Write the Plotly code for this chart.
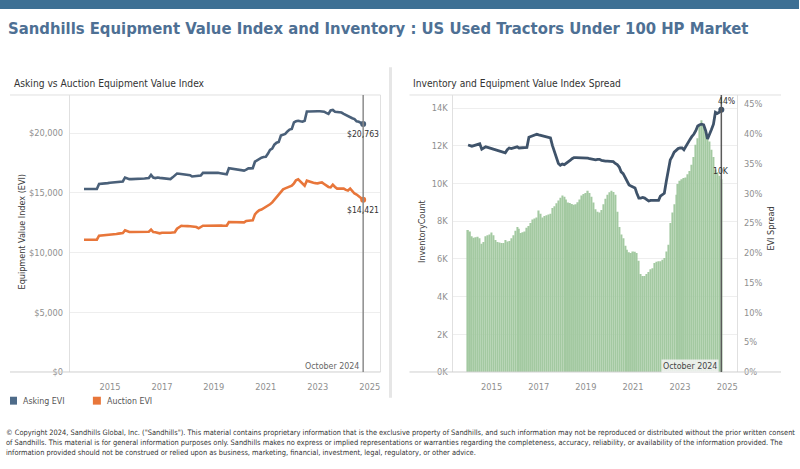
import pandas as pd
import plotly.graph_objects as go

# ---------------- data ----------------
months = pd.date_range("2014-01-01", periods=130, freq="MS")

asking_evi = [
    15330, 15330, 15330, 15330, 15330, 15330, 15330, 15740, 15750, 15780, 15800, 15820,  # 2014
    15850, 15870, 15900, 15920, 15940, 15960, 15960, 16290, 16200, 16154, 16150, 16150,  # 2015
    16160, 16170, 16180, 16200, 16210, 16230, 16240, 16510, 16290, 16240, 16290, 16260,  # 2016
    16240, 16230, 16240, 16200, 16154, 16300, 16500, 16621, 16600, 16570, 16550, 16511,  # 2017
    16490, 16480, 16374, 16400, 16420, 16440, 16450, 16676, 16680, 16690, 16700, 16690,  # 2018
    16680, 16690, 16680, 16650, 16620, 16600, 16566, 17061, 17040, 17020, 17000, 16970,  # 2019
    16940, 16923, 16868, 16950, 17061, 17050, 17060, 17610, 17750, 17885, 17950, 18000,  # 2020
    18022, 18297, 18600, 18709, 19039, 19200, 19258, 19808, 19900, 19945, 20150, 20300,  # 2021
    20357, 20906, 21000, 21044, 21000, 20961, 21044, 21813, 21820, 21810, 21820, 21830,  # 2022
    21840, 21840, 21840, 21800, 21700, 21620, 21900, 21950, 21800, 21760, 21730, 21730,  # 2023
    21620, 21510, 21400, 21290, 21250, 21180, 20990, 20950, 20850, 20763,                # 2024
]

auction_evi = [
    11080, 11080, 11080, 11080, 11080, 11080, 11080, 11420, 11430, 11450, 11460, 11480,  # 2014
    11500, 11520, 11540, 11560, 11590, 11610, 11640, 11860, 11760, 11720, 11720, 11720,  # 2015
    11730, 11730, 11740, 11740, 11750, 11740, 11750, 11920, 11720, 11700, 11650, 11610,  # 2016
    11660, 11650, 11630, 11640, 11660, 11680, 11700, 12000, 12150, 12250, 12230, 12250,  # 2017
    12220, 12200, 12180, 12160, 12140, 12030, 12150, 12250, 12250, 12260, 12280, 12260,  # 2018
    12270, 12280, 12280, 12270, 12260, 12250, 12250, 12560, 12560, 12550, 12540, 12540,  # 2019
    12530, 12520, 12530, 12650, 12690, 12690, 12700, 13200, 13400, 13550, 13600, 13700,  # 2020
    13800, 13950, 14050, 14200, 14400, 14650, 14850, 15050, 15300, 15380, 15450, 15550,  # 2021
    15600, 15800, 16050, 16130, 15960, 15800, 15600, 16020, 15950, 15900, 15850, 15820,  # 2022
    15800, 15850, 15880, 15750, 15600, 15500, 15470, 15690, 15500, 15360, 15360, 15360,  # 2023
    15360, 15250, 15200, 15360, 15150, 14950, 14860, 14700, 14550, 14421,                # 2024
]

inventory_count = [
    7540, 7450, 7200, 7130, 7150, 7180, 7100, 6800, 6900, 7200, 7250, 7300,          # 2014
    7400, 7250, 7010, 6900, 6870, 6850, 6850, 7000, 6930, 6950, 7100, 7250,          # 2015
    7500, 7700, 7600, 7380, 7420, 7450, 7650, 7750, 7900, 8090, 8150, 8200,          # 2016
    8570, 8400, 8200, 8280, 8320, 8360, 8400, 8700, 8800, 8950, 9100, 9250,          # 2017
    9360, 9300, 9150, 9000, 8970, 8920, 8880, 8900, 9010, 9150, 9360, 9450,          # 2018
    9500, 9620, 9500, 9300, 9000, 8630, 8500, 8465, 8600, 8900, 9190, 9400,          # 2019
    9540, 9620, 9550, 9400, 8500, 7700, 7300, 7100, 6700, 6490, 6350, 6320,          # 2020
    6400, 6380, 6320, 5900, 5200, 5100, 5100, 5200, 5300, 5450, 5500, 5790,          # 2021
    5850, 5880, 5880, 5950, 6055, 6400, 6750, 7900, 8465, 8900, 9400, 9970,          # 2022
    10150, 10230, 10300, 10320, 10500, 10670, 11000, 11410, 12060, 12400, 13100, 13360,  # 2023
    13100, 12760, 12500, 12230, 11800, 11410, 10750, 10600, 10410, 10230,            # 2024
]

evi_spread = [
    38.1, 38.0, 37.9, 38.0, 38.1, 38.2, 38.3, 37.4, 37.6, 37.8, 37.7, 37.6,  # 2014
    37.5, 37.4, 37.3, 37.2, 37.1, 37.0, 37.0, 36.8, 37.3, 37.6, 37.5, 37.6,  # 2015
    37.6, 37.8, 37.6, 37.6, 37.7, 37.6, 37.7, 39.4, 39.5, 39.6, 39.7, 39.9,  # 2016
    39.8, 39.7, 39.6, 39.5, 39.5, 39.4, 39.3, 38.0, 37.0, 36.0, 35.0, 34.7,  # 2017
    34.9, 34.8, 35.0, 35.2, 35.5, 35.8, 36.0, 36.0, 36.0, 36.0, 36.0, 35.9,  # 2018
    35.9, 35.9, 35.8, 35.7, 35.6, 35.6, 35.7, 35.7, 35.5, 35.4, 35.4, 35.4,  # 2019
    35.4, 35.4, 35.3, 35.0, 34.8, 34.4, 33.6, 33.3, 32.6, 32.0, 31.4, 31.2,  # 2020
    31.0, 30.9, 30.0, 29.2, 29.2, 29.3, 29.2, 29.0, 28.7, 28.8, 28.8, 28.8,  # 2021
    28.7, 28.8, 29.5, 29.8, 30.0, 32.0, 33.9, 35.6, 36.2, 36.9, 37.2, 37.5,  # 2022
    37.6, 37.6, 37.3, 37.8, 38.3, 39.0, 39.5, 39.9, 40.5, 41.3, 41.5, 41.6,  # 2023
    41.5, 40.5, 39.1, 39.8, 40.7, 41.6, 43.6, 43.4, 43.6, 44.0,              # 2024
]

year_ticks = ["2015", "2017", "2019", "2021", "2023", "2025"]
evi_ticks = [0, 5000, 10000, 15000, 20000]
inv_ticks = [0, 2000, 4000, 6000, 8000, 10000, 12000, 14000]
spread_ticks = [0, 5, 10, 15, 20, 25, 30, 35, 40, 45]

# ---------------- styling ----------------
W, H = 800, 469
FONT = "DejaVu Sans Condensed, Liberation Sans Narrow, Liberation Sans, sans-serif"
C_ASK = "#4a6079"
C_AUC = "#e8763a"
C_SPREAD = "#3f536a"
C_BAR = "#a3c9a1"
C_TICK = "#8f8f8f"
C_GRID = "#eeeeee"
C_BORDER = "#e0e0e0"

S_TICK = 9.2
S_LABEL = 8.6


def px(x):
    return x / W


def py(y):
    return 1 - y / H


plot_top, plot_bot = 96, 376
ydom = [py(plot_bot), py(plot_top)]

fig = go.Figure()

# left chart
fig.add_trace(go.Scatter(x=months, y=asking_evi, mode="lines", name="Asking EVI",
                         line=dict(color=C_ASK, width=2.6), xaxis="x", yaxis="y"))
fig.add_trace(go.Scatter(x=months, y=auction_evi, mode="lines", name="Auction EVI",
                         line=dict(color=C_AUC, width=2.6), xaxis="x", yaxis="y"))
fig.add_trace(go.Scatter(x=[months[-1]], y=[asking_evi[-1]], mode="markers",
                         marker=dict(color=C_ASK, size=6), xaxis="x", yaxis="y"))
fig.add_trace(go.Scatter(x=[months[-1]], y=[auction_evi[-1]], mode="markers",
                         marker=dict(color=C_AUC, size=6), xaxis="x", yaxis="y"))

# right chart
fig.add_trace(go.Bar(x=months, y=inventory_count, marker=dict(color=C_BAR, line=dict(width=0)),
                     name="InventoryCount", xaxis="x2", yaxis="y3"))
fig.add_trace(go.Scatter(x=months, y=evi_spread, mode="lines", name="EVI Spread",
                         line=dict(color=C_SPREAD, width=2.8), xaxis="x2", yaxis="y4"))
fig.add_trace(go.Scatter(x=[months[-1]], y=[evi_spread[-1]], mode="markers",
                         marker=dict(color=C_SPREAD, size=6), xaxis="x2", yaxis="y4"))

tickfont = dict(family=FONT, size=S_TICK, color=C_TICK)
xcommon = dict(type="date", tickvals=[f"{y}-01-01" for y in year_ticks], ticktext=year_ticks,
               showgrid=False, zeroline=False, showline=False, ticks="outside", ticklen=6,
               tickcolor="rgba(0,0,0,0)", tickfont=tickfont, fixedrange=True)

fig.update_layout(
    width=W, height=H, autosize=False,
    margin=dict(l=0, r=0, t=0, b=0),
    paper_bgcolor="white", plot_bgcolor="white",
    showlegend=False, bargap=0.2,
    font=dict(family=FONT, size=S_TICK, color="#333"),
    xaxis=dict(xcommon, domain=[px(70), px(381)], anchor="y",
               range=["2013-06-17", "2025-06-02"]),
    yaxis=dict(domain=ydom, anchor="x", range=[0, 23200], tickvals=evi_ticks,
               ticktext=[f"${v:,}" for v in evi_ticks], showgrid=True, gridcolor=C_GRID,
               zeroline=False, showline=True, linecolor=C_BORDER, linewidth=1,
               ticks="outside", ticklen=4, tickcolor="rgba(0,0,0,0)", tickfont=tickfont),
    xaxis2=dict(xcommon, domain=[px(454), px(738)], anchor="y3",
                range=["2013-05-19", "2025-06-02"]),
    yaxis3=dict(domain=ydom, anchor="x2", range=[0, 14700], tickvals=inv_ticks,
                ticktext=[f"{v // 1000}K" for v in inv_ticks], showgrid=True, gridcolor=C_GRID,
                zeroline=False, showline=True, linecolor=C_BORDER, linewidth=1,
                ticks="outside", ticklen=3, tickcolor="rgba(0,0,0,0)", tickfont=tickfont),
    yaxis4=dict(domain=ydom, anchor="x2", overlaying="y3", side="right", range=[0, 46.5],
                tickvals=spread_ticks, ticktext=[f"{v}%" for v in spread_ticks],
                showgrid=False, zeroline=False, showline=True, linecolor=C_BORDER, linewidth=1,
                ticks="outside", ticklen=4, tickcolor="rgba(0,0,0,0)", tickfont=tickfont),
)

shapes = [
    # top banner
    dict(type="rect", xref="paper", yref="paper", x0=0, x1=1, y0=py(9), y1=1,
         fillcolor="#3e7094", line=dict(width=0), layer="below"),
    # panel separator
    dict(type="line", xref="paper", yref="paper", x0=px(391), x1=px(391), y0=py(68), y1=py(402),
         line=dict(color="#e6e6e6", width=3)),
    # top borders
    dict(type="line", xref="paper", yref="paper", x0=px(10), x1=px(381), y0=py(96), y1=py(96),
         line=dict(color=C_BORDER, width=1)),
    dict(type="line", xref="paper", yref="paper", x0=px(410), x1=px(782), y0=py(96), y1=py(96),
         line=dict(color=C_BORDER, width=1)),
    # right border of left pane
    dict(type="line", xref="paper", yref="paper", x0=px(381), x1=px(381), y0=py(376), y1=py(96),
         line=dict(color=C_BORDER, width=1)),
    # baselines
    dict(type="line", xref="paper", yref="paper", x0=px(10), x1=px(381), y0=py(376), y1=py(376),
         line=dict(color="#cfcfcf", width=1)),
    dict(type="line", xref="paper", yref="paper", x0=px(410), x1=px(782), y0=py(376), y1=py(376),
         line=dict(color="#cfcfcf", width=1)),
    # current month reference lines
    dict(type="line", xref="x", yref="y domain", x0=months[-1], x1=months[-1], y0=0, y1=1,
         line=dict(color="#8c8c8c", width=1.5), layer="above"),
    dict(type="line", xref="x2", yref="y3 domain", x0=months[-1], x1=months[-1], y0=0, y1=1,
         line=dict(color="#5a5a5a", width=1.5), layer="above"),
    # legend swatches
    dict(type="rect", xref="paper", yref="paper", x0=px(10), x1=px(17), y0=py(409), y1=py(401),
         fillcolor="#4e6b89", line=dict(width=0)),
    dict(type="rect", xref="paper", yref="paper", x0=px(93), x1=px(101), y0=py(409), y1=py(401),
         fillcolor=C_AUC, line=dict(width=0)),
]
fig.update_layout(shapes=shapes)

ann = []


def paper_text(text, x, y, size, color="#333", xanchor="left", angle=0, **kw):
    ann.append(dict(text=text, xref="paper", yref="paper", x=px(x), y=py(y), xanchor=xanchor,
                    yanchor="middle", showarrow=False, textangle=angle,
                    font=dict(family=FONT, size=size, color=color), **kw))


paper_text("<b>Sandhills Equipment Value Index and Inventory : US Used Tractors Under 100 HP Market</b>",
           6, 29, 16.5, color="#4e7094")
paper_text("Asking vs Auction Equipment Value Index", 12, 84, 10.2, color="#333")
paper_text("Inventory and Equipment Value Index Spread", 412, 84, 10.2, color="#333")
paper_text("Equipment Value Index (EVI)", 22, 234, 9, color="#3a3a3a", xanchor="center", angle=-90)
paper_text("InventoryCount", 422, 234, 9, color="#3a3a3a", xanchor="center", angle=-90)
paper_text("EVI Spread", 772, 231, 9, color="#3a3a3a", xanchor="center", angle=-90)
paper_text("Asking EVI", 21, 405, 8.8, color="#555")
paper_text("Auction EVI", 105, 405, 8.8, color="#555")

footer = [
    "© Copyright 2024, Sandhills Global, Inc. (\"Sandhills\"). This material contains proprietary information that is the exclusive property of Sandhills, and such information may not be reproduced or distributed without the prior written consent",
    "of Sandhills. This material is for general information purposes only. Sandhills makes no express or implied representations or warranties regarding the completeness, accuracy, reliability, or availability of the information provided. The",
    "information provided should not be construed or relied upon as business, marketing, financial, investment, legal, regulatory, or other advice.",
]
for i, line in enumerate(footer):
    paper_text(line, 4, 437 + i * 10.3, 7.4, color="#333")

# value labels
lab_font = dict(family=FONT, size=S_LABEL, color="#333")
ann.append(dict(text=f"${asking_evi[-1]:,}", xref="x", yref="y", x=months[-1], y=asking_evi[-1],
                yshift=-10, showarrow=False, font=lab_font))
ann.append(dict(text=f"${auction_evi[-1]:,}", xref="x", yref="y", x=months[-1], y=auction_evi[-1],
                yshift=-10, showarrow=False, font=lab_font))
ann.append(dict(text=f"{evi_spread[-1]:.0f}%", xref="x2", yref="y4", x=months[-1], y=evi_spread[-1],
                yshift=9, xshift=5, showarrow=False, font=lab_font))
ann.append(dict(text=f"{inventory_count[-1] / 1000:.0f}K", xref="x2", yref="y3", x=months[-1],
                y=inventory_count[-1], yshift=8, showarrow=False, font=lab_font))
# current month labels
ann.append(dict(text="October 2024", xref="x", yref="paper", x=months[-1], y=py(370),
                xanchor="right", yanchor="middle", xshift=-2, showarrow=False,
                font=dict(family=FONT, size=8.8, color="#666")))
ann.append(dict(text="October 2024", xref="x2", yref="paper", x=months[-1], y=py(370),
                xanchor="right", yanchor="middle", xshift=-2, showarrow=False,
                bgcolor="rgba(245,245,245,0.85)",
                font=dict(family=FONT, size=8.8, color="#444")))

fig.update_layout(annotations=ann)

fig.write_html("out.html", config={"displayModeBar": False},
               post_script="document.body.style.margin='0';document.body.style.overflow='hidden';")
